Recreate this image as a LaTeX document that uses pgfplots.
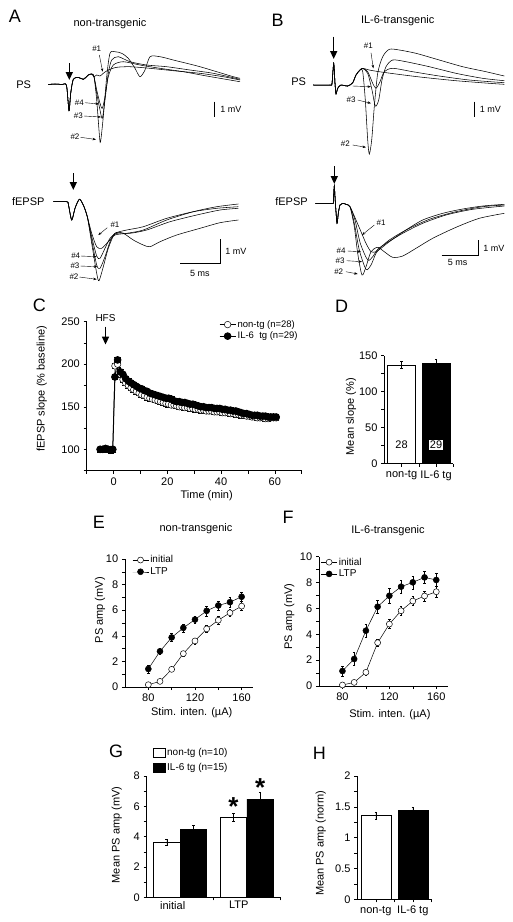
\documentclass[border=0pt]{standalone}
\usepackage{fontspec}
\setmainfont{Liberation Sans}
\usepackage{pgfplots}
\pgfplotsset{compat=1.18}
\usetikzlibrary{arrows.meta}
\newcommand\fs[1]{\fontsize{#1}{#1}\selectfont}
\pgfplotsset{
  /pgf/number format/assume math mode=true,
  panel/.style={
    scale only axis, anchor=south west, clip=false,
    axis lines=left, axis line style={-, line width=0.5pt},
    tick align=outside, major tick length=3pt, minor tick length=3pt,
    every tick/.style={black, line width=0.5pt},
    ylabel style={anchor=center},
    xlabel style={anchor=center},
    extra x tick style={grid=none},
  },
  ebar/.style={error bars/.cd, y dir=both, y explicit,
     error bar style={line width=0.4pt, black},
     error mark options={rotate=90, mark size=1.3pt, line width=0.4pt}},
  open/.style={black, line width=0.5pt, mark=*, mark size=3pt, mark options={fill=white, line width=0.5pt, solid}},
  filled/.style={black, line width=0.5pt, mark=*, mark size=3pt, mark options={fill=black, solid}},
  trace/.style={black, line width=0.55pt, smooth, tension=0.45, mark=none, forget plot},
  lineleg/.style={legend image code/.code={\draw[mark repeat=2,mark phase=2,##1] plot coordinates {(0pt,0pt)(8pt,0pt)(16pt,0pt)};}},
}
\tikzset{
  bigarr/.style={line width=1.5pt, -{Triangle[length=8pt,width=7pt]}},
  smallarr/.style={line width=0.4pt, -{Stealth[length=3.5pt,width=2.5pt]}},
  lab/.style={font=\fs{8}},
}
\begin{document}
\fontsize{11}{13}\selectfont
\begin{tikzpicture}
\path[use as bounding box] (0pt,0pt) rectangle (512pt,-922pt);

% ---------------- canvas with traces and panel annotations ----------------
\begin{axis}[at={(0pt,0pt)}, anchor=north west, scale only axis, width=512pt, height=922pt,
  xmin=0, xmax=512, ymin=0, ymax=922, y dir=reverse, hide axis, clip=false]
% A PS
\addplot[trace] coordinates {(48.3,84.5)(55,84)(62,84.5)(66.5,85.5)(69,110.7)(70.7,93.3)(73.3,79.3)(78.3,77.3)(83.3,79.3)(88.3,75)(91.7,74)(94,76.7)
 (96.7,100)(99.3,134)(100.5,142)(103.3,116.7)(106.7,76.7)(110,53.3)(115,51.7)(121.7,53.3)(128.3,58.3)(135,68.3)(140,76.7)(145,70)(150,56.7)(160,56.7)(173.3,60)(186.7,63.3)(200,66.7)(216.7,71.7)(233.3,76.7)(240,78.3)};
\addplot[trace] coordinates {(48.3,84.5)(55,84)(62,84.5)(66.5,85.5)(69,110.7)(70.7,93.3)(73.3,79.3)(78.3,77.3)(83.3,79.3)(88.3,75)(91.7,74)(94,76.7)
 (96.7,93.3)(100,110)(102.3,118.3)(105,100)(108.3,73.3)(111.7,60)(118.3,56.7)(130,61.7)(146.7,65)(166.7,66.7)(190,70)(213.3,73.3)(240,79.3)};
\addplot[trace] coordinates {(48.3,84.5)(55,84)(62,84.5)(66.5,85.5)(69,110.7)(70.7,93.3)(73.3,79.3)(78.3,77.3)(83.3,79.3)(88.3,75)(91.7,74)(94,76.7)
 (96.7,90)(100,103.3)(102.3,108.3)(105,96.7)(108.3,76.7)(113.3,65)(123.3,61.7)(140,65)(160,68.3)(183.3,71.7)(206.7,76)(240,81.7)};
\addplot[trace] coordinates {(48.3,84.5)(55,84)(62,84.5)(66.5,85.5)(69,110.7)(70.7,93.3)(73.3,79.3)(78.3,77.3)(83.3,79.3)(88.3,75)(91.7,74)(94,76.7)
 (96.7,75)(100,76)(103.3,73.3)(108.3,70)(116.7,67.3)(130,66.7)(150,68.3)(173.3,70.7)(200,73.3)(223.3,76.7)(240,80)};
% A fEPSP
\addplot[trace] coordinates {(53.3,201.7)(66.7,201.7)(68.3,204)(71.7,220)(75,208.3)(79.3,199.3)(83.3,205)(87.3,216.7)
 (91.7,233.3)(96.7,246.7)(101.7,248.3)(108.3,241.7)(115,235)(126.7,233.3)(143.3,230)(166.7,220)(193.3,211.7)(216.7,206.7)(238.3,204)};
\addplot[trace] coordinates {(53.3,201.7)(66.7,201.7)(68.3,204)(71.7,220)(75,208.3)(79.3,199.3)(83.3,205)(87.3,216.7)
 (91.7,243.3)(96.7,273.3)(99,280.7)(103.3,266.7)(108.3,248.3)(115,233.3)(123.3,233.3)(133.3,240)(143.3,245)(150,246.7)(160,241.7)(176.7,235)(200,228.3)(220,222.7)(238.3,220)};
\addplot[trace] coordinates {(53.3,201.7)(66.7,201.7)(68.3,204)(71.7,220)(75,208.3)(79.3,199.3)(83.3,205)(87.3,216.7)
 (91.7,240)(96.7,265)(100,268.3)(105,256.7)(110,241.7)(115,233.3)(126.7,230)(143.3,226.7)(166.7,218.3)(193.3,211.7)(216.7,208.3)(238.3,206.7)};
\addplot[trace] coordinates {(53.3,201.7)(66.7,201.7)(68.3,204)(71.7,220)(75,208.3)(79.3,199.3)(83.3,205)(87.3,216.7)
 (91.7,236.7)(96.7,256)(100,258.3)(105,248.3)(110,238.3)(116.7,233.3)(130,233.3)(146.7,230)(170,221.7)(196.7,215)(220,210)(238.3,208.3)};
% B PS
\addplot[trace] coordinates {(313.3,85)(330,85)(332,83.3)(333.7,63.3)(335,83.3)(336,94)(337.7,88.3)(341,85)(347.7,86)(352.7,82.7)(356,75)(360,70)
 (362.7,71.7)(365.3,100)(367.7,140)(369.3,154)(371.7,140)(374.3,106.7)(377.7,73.3)(382.7,56.7)(389.3,49.3)(399.3,50)(416,53.3)(439.3,60)(462.7,66.7)(486,71.7)(504.3,76)};
\addplot[trace] coordinates {(313.3,85)(330,85)(332,83.3)(333.7,63.3)(335,83.3)(336,94)(337.7,88.3)(341,85)(347.7,86)(352.7,82.7)(356,75)(360,70)
 (362.7,68.3)(367.7,73.3)(372,90)(375.3,106)(378.7,100)(382,80)(386,66.7)(392.7,60)(406,61.7)(429.3,66.7)(456,73.3)(482.7,78.3)(504.3,80.7)};
\addplot[trace] coordinates {(313.3,85)(330,85)(332,83.3)(333.7,63.3)(335,83.3)(336,94)(337.7,88.3)(341,85)(347.7,86)(352.7,82.7)(356,75)(360,70)
 (362.7,68.3)(367.7,71.7)(372.7,83.3)(376,88.3)(380,81.7)(384.3,71.7)(392.7,68.3)(412.7,71.7)(439.3,76)(469.3,80)(504.3,82.7)};
\addplot[trace] coordinates {(313.3,85)(330,85)(332,83.3)(333.7,63.3)(335,83.3)(336,94)(337.7,88.3)(341,85)(347.7,86)(352.7,82.7)(356,75)(360,70)
 (362.7,68.3)(369.3,70)(379.3,71.7)(396,74)(422.7,77.3)(456,80.7)(489.3,83.3)(504.3,84.3)};
% B fEPSP
\addplot[trace] coordinates {(315.3,203.3)(332,203.3)(333.3,201.7)(334.3,186)(335.3,201.7)(337,223.3)(338.3,213.3)(340,205)(342.7,203.3)(346,204.3)(350,206.7)
 (356,220)(361,231.7)(366,243.3)(371,251.7)(376,251.7)(381,248.3)(389.3,241.7)(406,230)(422.7,220)(442.7,213.3)(462.7,209)(482.7,206)(504.3,204.3)};
\addplot[trace] coordinates {(315.3,203.3)(332,203.3)(333.3,201.7)(334.3,186)(335.3,201.7)(337,223.3)(338.3,213.3)(340,205)(342.7,203.3)(346,204.3)(350,206.7)
 (354.3,226.7)(357.7,253.3)(362,275)(366,266.7)(371,251.7)(377.7,247.3)(384.3,251.7)(392.7,257.3)(402.7,256)(416,248.3)(432.7,238.3)(456,227.3)(479.3,218.3)(504.3,213.3)};
\addplot[trace] coordinates {(315.3,203.3)(332,203.3)(333.3,201.7)(334.3,186)(335.3,201.7)(337,223.3)(338.3,213.3)(340,205)(342.7,203.3)(346,204.3)(350,206.7)
 (354.3,223.3)(359.3,250)(366,269.3)(371,265)(376,253.3)(381,247.3)(389.3,240)(406,230)(429.3,219.3)(456,211.7)(482.7,206.7)(504.3,205)};
\addplot[trace] coordinates {(315.3,203.3)(332,203.3)(333.3,201.7)(334.3,186)(335.3,201.7)(337,223.3)(338.3,213.3)(340,205)(342.7,203.3)(346,204.3)(350,206.7)
 (355,220)(360.3,243.3)(367.7,260)(372.7,256.7)(377.7,249.3)(386,243.3)(402.7,233.3)(422.7,223.3)(446,215)(472.7,209.3)(504.3,206)};

% panel letters and titles
\node[font=\fs{18}] at (axis cs:15,16) {A};
\node at (axis cs:110,24) {non-transgenic};
\node[font=\fs{18}] at (axis cs:277.7,20) {B};
\node at (axis cs:397.7,21) {IL-6-transgenic};
\node[font=\fs{18}] at (axis cs:39.3,305) {C};
\node[font=\fs{18}] at (axis cs:341.7,306.7) {D};
\node[font=\fs{18}] at (axis cs:99,522) {E};
\node at (axis cs:196,529) {non-transgenic};
\node[font=\fs{18}] at (axis cs:288,517) {F};
\node at (axis cs:388,531) {IL-6-transgenic};
\node[font=\fs{18}] at (axis cs:116,751) {G};
\node[font=\fs{18}] at (axis cs:319.3,753.3) {H};

% A annotations
\node at (axis cs:23.7,85) {PS};
\node at (axis cs:28.3,201.7) {fEPSP};
\draw[bigarr] (axis cs:69.3,63) -- (axis cs:69.3,80);
\draw[bigarr] (axis cs:73.3,173.3) -- (axis cs:73.3,190);
\node[lab] at (axis cs:96.7,49) {\#1};
\draw[smallarr] (axis cs:99.3,55) -- (axis cs:102.7,71.7);
\node[lab] at (axis cs:79.3,102.7) {\#4};
\draw[smallarr] (axis cs:85,102.7) -- (axis cs:99,104);
\node[lab] at (axis cs:78.3,116) {\#3};
\draw[smallarr] (axis cs:84,116) -- (axis cs:101,117);
\node[lab] at (axis cs:75,136.7) {\#2};
\draw[smallarr] (axis cs:80.7,137.3) -- (axis cs:96,139.5);
\draw[line width=0.6pt] (axis cs:214.3,101.7) -- (axis cs:214.3,116.7);
\node[anchor=west, font=\fs{9}] at (axis cs:216.5,109) {1 mV};
\node[lab] at (axis cs:115,225) {\#1};
\draw[smallarr] (axis cs:107.3,227.7) -- (axis cs:98.3,235);
\node[lab] at (axis cs:75.7,256) {\#4};
\draw[smallarr] (axis cs:81,256) -- (axis cs:96.7,256.7);
\node[lab] at (axis cs:75,265.7) {\#3};
\draw[smallarr] (axis cs:80.5,266) -- (axis cs:97.3,266.7);
\node[lab] at (axis cs:74,276.7) {\#2};
\draw[smallarr] (axis cs:79.5,277) -- (axis cs:96.7,279.3);
\draw[line width=0.6pt] (axis cs:180,263.3) -- (axis cs:220,263.3) -- (axis cs:220,239.3);
\node[anchor=west, font=\fs{9}] at (axis cs:221.5,251) {1 mV};
\node[font=\fs{9}] at (axis cs:200,273) {5 ms};

% B annotations
\node at (axis cs:298.7,81.7) {PS};
\node at (axis cs:291.5,201.7) {fEPSP};
\draw[bigarr] (axis cs:333.7,36.7) -- (axis cs:333.7,59);
\draw[bigarr] (axis cs:334.3,166) -- (axis cs:334.3,184);
\node[lab] at (axis cs:368.3,45.7) {\#1};
\draw[smallarr] (axis cs:371,52.7) -- (axis cs:373.3,68.3);
\draw[smallarr] (axis cs:352.7,86) -- (axis cs:371,86.7);
\node[lab] at (axis cs:351,99.3) {\#3};
\draw[smallarr] (axis cs:357.7,100) -- (axis cs:371,103.3);
\node[lab] at (axis cs:345.3,144) {\#2};
\draw[smallarr] (axis cs:352.7,145) -- (axis cs:366,147.3);
\draw[line width=0.6pt] (axis cs:474.3,101.7) -- (axis cs:474.3,116.7);
\node[anchor=west, font=\fs{9}] at (axis cs:476,109) {1 mV};
\node[lab] at (axis cs:381,222.3) {\#1};
\draw[smallarr] (axis cs:374.3,225) -- (axis cs:362,235);
\node[lab] at (axis cs:341,250.7) {\#4};
\draw[smallarr] (axis cs:347.7,251) -- (axis cs:361,251.7);
\node[lab] at (axis cs:340,260.7) {\#3};
\draw[smallarr] (axis cs:346.7,260.7) -- (axis cs:362,261.7);
\node[lab] at (axis cs:338.7,271.7) {\#2};
\draw[smallarr] (axis cs:346,271.7) -- (axis cs:357.7,274);
\draw[line width=0.6pt] (axis cs:441.7,255) -- (axis cs:478,255) -- (axis cs:478,240);
\node[anchor=west, font=\fs{9}] at (axis cs:479.5,248) {1 mV};
\node[font=\fs{9}] at (axis cs:457.7,262.5) {5 ms};
\end{axis}

% ---------------- C ----------------
\begin{axis}[panel, at={(86.7pt,-470.6pt)}, width=215pt, height=149pt,
  xmin=-10, xmax=70, ymin=75, ymax=250,
  xtick={0,20,40,60}, minor xtick={-10,10,30,50,70},
  ytick={100,150,200,250}, minor ytick={75,125,175,225},
  xlabel={Time (min)}, ylabel={fEPSP slope (\% baseline)},
  xlabel style={at={(axis description cs:0.558,-0.17)}},
  ylabel style={at={(axis description cs:-0.209,0.55)}},
  lineleg,
  legend style={at={(0.615,1.02)}, anchor=north west, draw=none, fill=none, inner sep=0pt,
    font=\fs{9.5}, row sep=0pt, legend cell align=left, nodes={inner sep=1.5pt}},
]
\addplot[open, mark size=3.3pt, error bars/.cd, y dir=both, y fixed=3, error bar style={line width=0.4pt}] coordinates {
(-5,100) (-4,100) (-3,101) (-2,100) (-1,100) (-0.3,100) (0.5,198) (1.5,200) (2.5,188) (3.5,182) (4.5,178) (5.5,175) (6.5,172) (7.5,170) (8.5,168) (9.5,166) (10.5,164) (11.5,163) (12.5,161) (13.5,160) (14.5,159) (15.5,158) (16.5,157) (17.5,156) (18.5,155) (19.5,154) (20.5,153) (21.5,152) (22.5,152) (23.5,151) (24.5,150) (25.5,150) (26.5,149) (27.5,149) (28.5,148) (29.5,148) (30.5,147) (31.5,147) (32.5,146) (33.5,146) (34.5,145) (35.5,145) (36.5,145) (37.5,144) (38.5,144) (39.5,144) (40.5,143) (41.5,143) (42.5,143) (43.5,142) (44.5,142) (45.5,141) (46.5,141) (47.5,140) (48.5,140) (49.5,139) (50.5,139) (51.5,138) (52.5,138) (53.5,137) (54.5,137) (55.5,137) (56.5,136) (57.5,136) (58.5,137) (59.5,137) (60.5,137)};
\addlegendentry{non-tg (n=28)}
\addplot[filled, line width=1pt, mark size=3.3pt, error bars/.cd, y dir=both, y fixed=3, error bar style={line width=0.4pt}] coordinates {
(-5,100) (-4,100) (-3,101) (-2,100) (-1,99) (-0.3,100) (0.5,185) (1.5,205) (2.5,191) (3.5,188) (4.5,183) (5.5,180) (6.5,178) (7.5,176) (8.5,174) (9.5,172) (10.5,171) (11.5,169) (12.5,168) (13.5,166) (14.5,165) (15.5,164) (16.5,163) (17.5,162) (18.5,161) (19.5,160) (20.5,160) (21.5,159) (22.5,157) (23.5,156) (24.5,156) (25.5,155) (26.5,155) (27.5,154) (28.5,153) (29.5,153) (30.5,152) (31.5,151) (32.5,150) (33.5,150) (34.5,149) (35.5,149) (36.5,149) (37.5,148) (38.5,148) (39.5,148) (40.5,147) (41.5,147) (42.5,146) (43.5,146) (44.5,145) (45.5,145) (46.5,144) (47.5,143) (48.5,142) (49.5,142) (50.5,141) (51.5,140) (52.5,140) (53.5,140) (54.5,139) (55.5,139) (56.5,139) (57.5,138) (58.5,138) (59.5,138) (60.5,138)};
\addlegendentry{IL-6\ \ tg (n=29)}
\node[font=\fs{10}] at (axis cs:-3,254) {HFS};
\draw[bigarr] (axis cs:-3,244) -- (axis cs:-3,223);
\end{axis}

% ---------------- D ----------------
\begin{axis}[panel, at={(384.3pt,-463.7pt)}, width=69pt, height=108pt,
  xmin=0.5, xmax=2.5, ymin=0, ymax=150,
  xtick={1,2}, xticklabels={non-tg, IL-6 tg}, extra x ticks={1.5,2.5}, extra x tick labels={},
  ytick={0,50,100,150}, minor ytick={25,75,125},
  ylabel={Mean slope (\%)},
  ylabel style={at={(axis description cs:-0.483,0.435)}},
]
\addplot[ybar, bar width=28pt, bar shift=0pt, draw=black, line width=0.5pt, fill=white, ebar] coordinates {(1,137) +- (0,5)};
\addplot[ybar, bar width=28pt, bar shift=0pt, draw=black, line width=0.5pt, fill=black, ebar] coordinates {(2,140) +- (0,5)};
\node at (axis cs:1,26) {28};
\node[fill=white, inner sep=0.8pt] at (axis cs:2,26) {29};
\end{axis}

% ---------------- E ----------------
\begin{axis}[panel, at={(125pt,-687pt)}, width=128.3pt, height=128pt,
  xmin=60, xmax=170, ymin=0, ymax=10,
  xtick={80,100,...,160}, xticklabels={80,,120,,160},
  ytick={0,2,...,10}, minor ytick={1,3,...,9},
  xlabel={Stim. inten. (µA)}, ylabel={PS amp (mV)},
  xlabel style={at={(axis description cs:0.52,-0.2)}},
  ylabel style={at={(axis description cs:-0.195,0.6)}},
  lineleg,
  legend style={at={(0.055,1.04)}, anchor=north west, draw=none, fill=none, inner sep=0pt,
    font=\fs{10}, row sep=0pt, legend cell align=left, nodes={inner sep=1.5pt}},
]
\addplot[open, ebar] coordinates {(80,0.18) +- (0,0.1) (90,0.44) +- (0,0.1) (100,1.38) +- (0,0.15) (110,2.61) +- (0,0.2) (120,3.6) +- (0,0.25) (130,4.54) +- (0,0.25) (140,5.22) +- (0,0.3) (150,5.8) +- (0,0.3) (160,6.32) +- (0,0.35)};
\addlegendentry{initial}
\addplot[filled, ebar] coordinates {(80,1.41) +- (0,0.3) (90,2.79) +- (0,0.25) (100,3.87) +- (0,0.3) (110,4.62) +- (0,0.3) (120,5.27) +- (0,0.3) (130,5.95) +- (0,0.4) (140,6.37) +- (0,0.35) (150,6.63) +- (0,0.4) (160,7.05) +- (0,0.35)};
\addlegendentry{LTP}
\end{axis}

% ---------------- F ----------------
\begin{axis}[panel, at={(319pt,-686pt)}, width=129pt, height=129.3pt,
  xmin=60, xmax=170, ymin=0, ymax=10,
  xtick={80,100,...,160}, xticklabels={80,,120,,160},
  ytick={0,2,...,10}, minor ytick={1,3,...,9},
  xlabel={Stim. inten. (µA)}, ylabel={PS amp (mV)},
  xlabel style={at={(axis description cs:0.55,-0.224)}},
  ylabel style={at={(axis description cs:-0.23,0.536)}},
  lineleg,
  legend style={at={(0.013,1.005)}, anchor=north west, draw=none, fill=none, inner sep=0pt,
    font=\fs{10}, row sep=0pt, legend cell align=left, nodes={inner sep=1.5pt}},
]
\addplot[open, ebar] coordinates {(80,0.08) +- (0,0.1) (90,0.28) +- (0,0.15) (100,1.06) +- (0,0.2) (110,3.35) +- (0,0.3) (120,4.79) +- (0,0.35) (130,5.82) +- (0,0.35) (140,6.57) +- (0,0.35) (150,6.96) +- (0,0.4) (160,7.29) +- (0,0.4)};
\addlegendentry{initial}
\addplot[filled, ebar] coordinates {(80,1.16) +- (0,0.4) (90,2.09) +- (0,0.5) (100,4.28) +- (0,0.5) (110,6.13) +- (0,0.5) (120,6.98) +- (0,0.55) (130,7.68) +- (0,0.5) (140,8.02) +- (0,0.5) (150,8.4) +- (0,0.45) (160,8.2) +- (0,0.5)};
\addlegendentry{LTP}
\end{axis}

% ---------------- G ----------------
\begin{axis}[panel, at={(146.7pt,-897.3pt)}, width=133.4pt, height=121.3pt,
  xmin=0.5, xmax=2.5, ymin=0, ymax=8,
  xtick={1.5,2.5}, xticklabels={,}, extra x ticks={0.89,1.88}, extra x tick labels={initial,LTP},
  extra x tick style={major tick length=0pt},
  ytick={0,2,...,8}, minor ytick={1,3,5,7},
  ylabel={Mean PS amp (mV)},
  ylabel style={at={(axis description cs:-0.225,0.514)}},
  legend image code/.code={\draw[#1, line width=0.5pt] (0pt,-4.5pt) rectangle (12pt,4.5pt);},
  legend style={at={(0.047,1.24)}, anchor=north west, draw=none, fill=none, inner sep=0pt,
    font=\fs{10}, row sep=3pt, legend cell align=left, nodes={inner sep=1.5pt}},
]
\addplot[ybar, bar width=26.5pt, bar shift=0pt, draw=black, line width=0.5pt, fill=white, ebar] coordinates {(0.8,3.65) +- (0,0.18) (1.8,5.27) +- (0,0.28)};
\addlegendentry{non-tg (n=10)}
\addplot[ybar, bar width=26.5pt, bar shift=0pt, draw=black, line width=0.5pt, fill=black, ebar] coordinates {(1.2,4.48) +- (0,0.25) (2.2,6.48) +- (0,0.45)};
\addlegendentry{IL-6 tg (n=15)}
\node[anchor=base, font=\bfseries\fs{26}] at (axis cs:1.8,5.41) {*};
\node[anchor=base, font=\bfseries\fs{26}] at (axis cs:2.2,6.62) {*};
\end{axis}

% ---------------- H ----------------
\begin{axis}[panel, at={(357.3pt,-899.3pt)}, width=74pt, height=123.3pt,
  xmin=0.5, xmax=2.5, ymin=0, ymax=2,
  xtick={1,2}, xticklabels={non-tg, IL-6 tg}, extra x ticks={1.5,2.5}, extra x tick labels={},
  ytick={0,0.5,1,1.5,2}, minor ytick={0.25,0.75,1.25,1.75},
  yticklabels={0,0.5,1,1.5,2},
  ylabel={Mean PS amp (norm)},
  ylabel style={at={(axis description cs:-0.495,0.454)}},
]
\addplot[ybar, bar width=30pt, bar shift=0pt, draw=black, line width=0.5pt, fill=white, ebar] coordinates {(1,1.36) +- (0,0.06)};
\addplot[ybar, bar width=30pt, bar shift=0pt, draw=black, line width=0.5pt, fill=black, ebar] coordinates {(2,1.45) +- (0,0.05)};
\end{axis}
\end{tikzpicture}
\end{document}
